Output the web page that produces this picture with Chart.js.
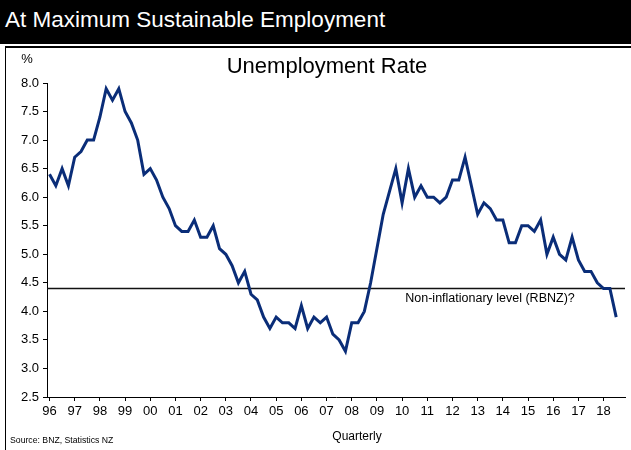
<!DOCTYPE html>
<html>
<head>
<meta charset="utf-8">
<script src="https://cdn.jsdelivr.net/npm/chart.js@4"></script>
<style>
  body { margin: 0; background: #fff; font-family: "Liberation Sans", Arial, sans-serif; }
  #wrap { position: relative; width: 631px; height: 450px; overflow: hidden; }
  #head { position: absolute; left: 0; top: 0; width: 631px; height: 44px; background: #000;
          color: #fff; font-size: 22.5px; line-height: 40px; padding-left: 5px; box-sizing: border-box; z-index: 2; }
  #frame { position: absolute; left: 5px; top: 46px; width: 640px; height: 420px;
           border-top: 2px solid #000; border-left: 1px solid #000; z-index: 2; pointer-events: none; }
  canvas { position: absolute; left: 0; top: 0; }
</style>
</head>
<body>
<div id="wrap">
  <div id="head">At Maximum Sustainable Employment</div>
  <div id="frame"></div>
  <canvas id="unemp" width="631" height="450"></canvas>
</div>
<script>
(() => {
  // quarterly unemployment rate, 1996 Q1 .. 2018 Q3
  const yearLabels = ["96","97","98","99","00","01","02","03","04","05","06","07",
                      "08","09","10","11","12","13","14","15","16","17","18"];
  const unemployment = [
    6.4, 6.2, 6.5, 6.2,   6.7, 6.8, 7.0, 7.0,   7.4, 7.9, 7.7, 7.9,   7.5, 7.3, 7.0, 6.4,
    6.5, 6.3, 6.0, 5.8,   5.5, 5.4, 5.4, 5.6,   5.3, 5.3, 5.5, 5.1,   5.0, 4.8, 4.5, 4.7,
    4.3, 4.2, 3.9, 3.7,   3.9, 3.8, 3.8, 3.7,   4.1, 3.7, 3.9, 3.8,   3.9, 3.6, 3.5, 3.3,
    3.8, 3.8, 4.0, 4.5,   5.1, 5.7, 6.1, 6.5,   5.9, 6.5, 6.0, 6.2,   6.0, 6.0, 5.9, 6.0,
    6.3, 6.3, 6.7, 6.2,   5.7, 5.9, 5.8, 5.6,   5.6, 5.2, 5.2, 5.5,   5.5, 5.4, 5.6, 5.0,
    5.3, 5.0, 4.9, 5.3,   4.9, 4.7, 4.7, 4.5,   4.4, 4.4, 3.9
  ];
  const nairu = 4.4; // RBNZ non-inflationary level
  const yTicks = [2.5, 3.0, 3.5, 4.0, 4.5, 5.0, 5.5, 6.0, 6.5, 7.0, 7.5, 8.0];

  const FONT = '"Liberation Sans", Arial, sans-serif';

  // texts + reference line
  const extrasPlugin = {
    id: "extras",
    beforeDatasetsDraw: (chart) => {
      const { ctx, chartArea } = chart;
      const y = chart.scales.y.getPixelForValue(nairu);
      ctx.save();
      ctx.strokeStyle = "#111";
      ctx.lineWidth = 1.5;
      ctx.beginPath();
      ctx.moveTo(chartArea.left, y);
      ctx.lineTo(chartArea.right, y);
      ctx.stroke();
      ctx.restore();
    },
    afterDraw: (chart) => {
      const { ctx } = chart;
      const x = chart.scales.x, y = chart.scales.y;
      ctx.save();
      ctx.fillStyle = "#000";
      ctx.textBaseline = "middle";

      ctx.font = "22px " + FONT;
      ctx.textAlign = "center";
      ctx.fillText("Unemployment Rate", 327, 67);

      ctx.font = "13px " + FONT;
      ctx.fillText("%", 27, 59);

      ctx.font = "12px " + FONT;
      ctx.fillText("Quarterly", 357, 437);

      ctx.font = "12.5px " + FONT;
      ctx.textAlign = "left";
      ctx.fillText("Non-inflationary level (RBNZ)?", x.getPixelForValue(56.5), y.getPixelForValue(nairu) + 10);

      ctx.font = "8.7px " + FONT;
      ctx.fillText("Source: BNZ, Statistics NZ", 10, 441);
      ctx.restore();
    }
  };

  new Chart(document.getElementById("unemp").getContext("2d"), {
    type: "line",
    data: {
      datasets: [{
        label: "Unemployment rate",
        data: unemployment.map((v, i) => ({ x: i, y: v })),
        borderColor: "#0a2d78",
        borderWidth: 3,
        pointRadius: 0,
        tension: 0,
        fill: false
      }]
    },
    options: {
      responsive: false,
      animation: false,
      devicePixelRatio: 1,
      layout: { padding: { left: 0, top: 83, right: 6, bottom: 0 } },
      plugins: {
        legend: { display: false },
        title: { display: false },
        tooltip: { enabled: false }
      },
      scales: {
        x: {
          type: "linear",
          min: -0.4,
          max: 91.4,
          afterFit: (s) => { s.height = 53; },
          afterBuildTicks: (s) => { s.ticks = yearLabels.map((_, k) => ({ value: k * 4 })); },
          grid: { drawOnChartArea: false, drawTicks: true, tickLength: 4, color: "#000" },
          border: { display: true, color: "#000", width: 1 },
          ticks: {
            autoSkip: false,
            maxRotation: 0,
            padding: 3,
            color: "#000",
            font: { family: FONT, size: 13 },
            callback: (v) => yearLabels[Math.round(v / 4)]
          }
        },
        y: {
          min: 2.5,
          max: 8.0,
          afterFit: (s) => { s.width = 47; },
          afterBuildTicks: (s) => { s.ticks = yTicks.map(v => ({ value: v })); },
          grid: { drawOnChartArea: false, drawTicks: true, tickLength: 4, color: "#000" },
          border: { display: true, color: "#000", width: 1 },
          ticks: {
            padding: 4,
            color: "#000",
            font: { family: FONT, size: 13 },
            callback: (v) => Number(v).toFixed(1)
          }
        }
      }
    },
    plugins: [extrasPlugin]
  });
})();
</script>
</body>
</html>
